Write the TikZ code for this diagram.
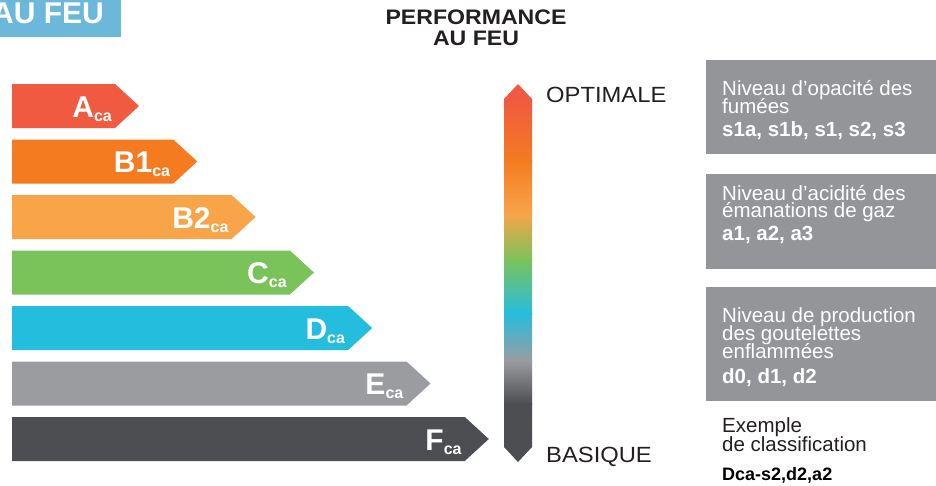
\documentclass[tikz,border=0pt]{standalone}
\usepackage{fontspec}
\setmainfont{Liberation Sans}
\definecolor{cRed}{HTML}{F05A40}
\definecolor{cOrange}{HTML}{F47B20}
\definecolor{cLOrange}{HTML}{F8A449}
\definecolor{cGreen}{HTML}{7AC35B}
\definecolor{cCyan}{HTML}{25BDDD}
\definecolor{cGrey}{HTML}{9A9CA0}
\definecolor{cDark}{HTML}{4D4E51}
\definecolor{cBox}{HTML}{939598}
\definecolor{cBlue}{HTML}{6CB8DB}
\definecolor{cText}{HTML}{231F20}
\begin{document}
\begin{tikzpicture}[x=1pt,y=-1pt,line join=round,
	txt/.style={anchor=base west,inner sep=0pt,text=white,font=\fontsize{20.5}{20.5}\selectfont},
	txtb/.style={txt,font=\fontsize{20.5}{20.5}\selectfont\bfseries},
	lab/.style={anchor=base east,inner sep=0pt,text=white,font=\fontsize{30}{30}\selectfont\bfseries},
	titre/.style={anchor=base,inner sep=0pt,text=cText,font=\fontsize{21}{21}\selectfont\bfseries\addfontfeature{FakeStretch=1.1}}]
	\useasboundingbox (0,0) rectangle (936,485);
	\clip (0,0) rectangle (936,485);
	\fill[cBlue] (0,0) rectangle (121,37);
	\node[lab] (titre) at (104,23) {AU FEU};
	\node[titre] (perf) at (476,24) {PERFORMANCE};
	\node[titre] (aufeu) at (476,45) {AU FEU};
	% classes
	\foreach \col/\lab/\i in {cRed/A/0,cOrange/B1/1,cLOrange/B2/2,cGreen/C/3,cCyan/D/4,cGrey/E/5,cDark/F/6}{
		\pgfmathsetmacro\yt{84+55.5*\i}
		\pgfmathsetmacro\xt{139+58.3*\i}
		\fill[\col] (12,\yt)--({\xt-24},\yt)--(\xt,{\yt+22})--({\xt-24},{\yt+44})--(12,{\yt+44})--cycle;
		\node[lab] (l\lab) at ({\xt-27},{\yt+33}) {\lab\raisebox{-4pt}{\fontsize{16}{16}\selectfont ca}};
	}
	% echelle
	\begin{scope}
		\clip (504,99)--(518,84)--(532,99)--(532,447)--(518,462)--(504,447)--cycle;
		\foreach \ya/\yb/\ca/\cb in {83/100/cRed/cRed,99/161/cRed/cOrange,160/214/cOrange/cLOrange,213/261/cLOrange/cGreen,260/314/cGreen/cCyan,313/361/cCyan/cGrey,360/404/cGrey/cDark,403/463/cDark/cDark}
		\shade[top color=\ca,bottom color=\cb] (503,\ya) rectangle (533,\yb);
	\end{scope}
	\node[txt,text=cText,font=\fontsize{22}{22}\selectfont\addfontfeature{FakeStretch=1.08}] (opt) at (546,102) {OPTIMALE};
	\node[txt,text=cText,font=\fontsize{22}{22}\selectfont\addfontfeature{FakeStretch=1.08}] (bas) at (546,462) {BASIQUE};
	% criteres
	\fill[cBox] (706,60) rectangle (936,154);
	\fill[cBox] (706,174) rectangle (936,269);
	\fill[cBox] (706,287) rectangle (936,401);
	\node[txt] (s1) at (722,95) {Niveau d’opacité des};
	\node[txt] (s2) at (722,113) {fumées};
	\node[txtb] (s3) at (722,136) {s1a, s1b, s1, s2, s3};
	\node[txt] (a1) at (722,200) {Niveau d’acidité des};
	\node[txt] (a2) at (722,217) {émanations de gaz};
	\node[txtb] (a3) at (722,240) {a1, a2, a3};
	\node[txt] (d1) at (722,322) {Niveau de production};
	\node[txt] (d2) at (722,340) {des goutelettes};
	\node[txt] (d3) at (722,358) {enflammées};
	\node[txtb] (d4) at (722,383) {d0, d1, d2};
	\node[txt,text=cText] (ex1) at (722,432) {Exemple};
	\node[txt,text=cText] (ex2) at (722,451) {de classification};
	\node[txtb,text=black,font=\fontsize{18}{18}\selectfont\bfseries] (ex3) at (722,480) {Dca-s2,d2,a2};
\end{tikzpicture}
\end{document}
